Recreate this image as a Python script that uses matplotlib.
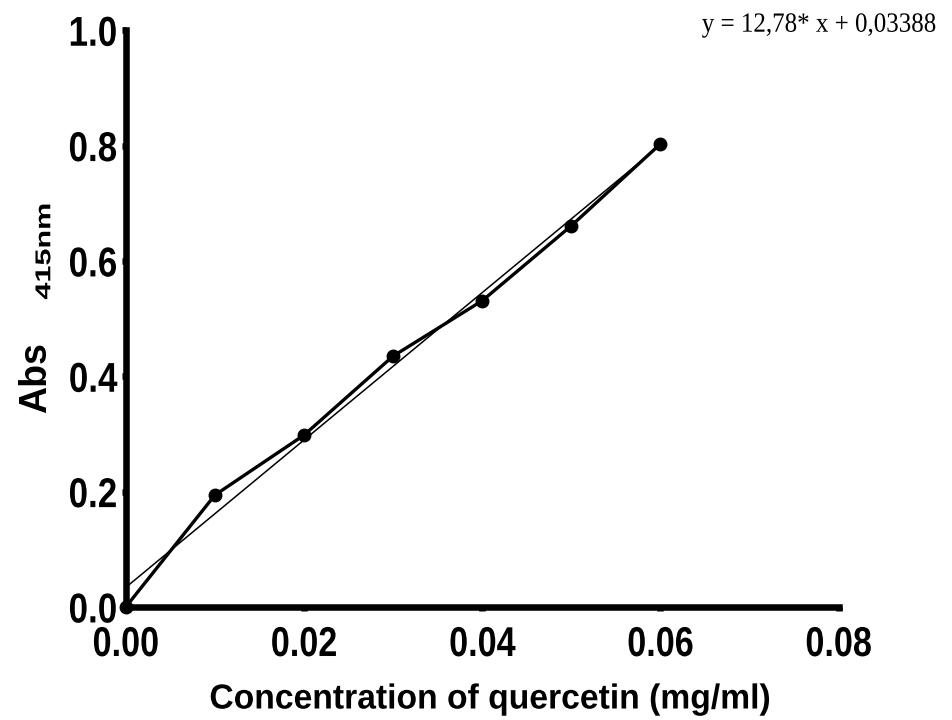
import matplotlib
matplotlib.use("Agg")
import matplotlib.pyplot as plt
from matplotlib.patheffects import AbstractPathEffect
from matplotlib.transforms import Affine2D
import numpy as np

# Curva de calibracion de quercetina
conc = [0.00, 0.01, 0.02, 0.03, 0.04, 0.05, 0.06]
absorb = [0.000, 0.194, 0.298, 0.435, 0.531, 0.661, 0.803]
slope = 12.78
intercept = 0.03388
x_ticks = [0.00, 0.02, 0.04, 0.06, 0.08]
y_ticks = [0.0, 0.2, 0.4, 0.6, 0.8, 1.0]


class Squeeze(AbstractPathEffect):
    # escala el texto en una direccion (no hay fuente "narrow" instalada)
    def __init__(self, s, anchor="center", axis="x"):
        super().__init__()
        self.s = s
        self.anchor = anchor
        self.axis = axis

    def draw_path(self, renderer, gc, tpath, affine, rgbFace=None):
        ext = affine.transform_path(tpath).get_extents()
        if self.axis == "x":
            c = {"left": ext.x0, "right": ext.x1}.get(self.anchor, (ext.x0 + ext.x1) / 2)
            t = affine + Affine2D().translate(-c, 0).scale(self.s, 1).translate(c, 0)
        else:
            c = (ext.y0 + ext.y1) / 2
            t = affine + Affine2D().translate(0, -c).scale(1, self.s).translate(0, c)
        renderer.draw_path(gc, tpath, t, rgbFace)


fig = plt.figure(figsize=(9.53, 7.2), dpi=100)
ax = fig.add_axes([0.132, 0.157, 0.748, 0.801])

fit_x = np.array([conc[0], conc[-1]])
ax.plot(fit_x, slope * fit_x + intercept, color="black", lw=1.1, zorder=2)
ax.plot(conc, absorb, color="black", lw=2.4, marker="o", markersize=9, zorder=3, clip_on=False)

ax.set_xlim(0, 0.08)
ax.set_ylim(0, 1.0)
ax.set_xticks(x_ticks)
ax.set_xticklabels([f"{v:.2f}" for v in x_ticks])
ax.set_yticks(y_ticks)
ax.set_yticklabels([f"{v:.1f}" for v in y_ticks])

for side in ["top", "right"]:
    ax.spines[side].set_visible(False)
for side in ["left", "bottom"]:
    ax.spines[side].set_linewidth(4.7)

ax.tick_params(axis="y", direction="out", length=3, width=4.7, pad=3)
ax.tick_params(axis="x", direction="out", length=3, width=4.7, pad=10)
for lab in ax.get_xticklabels():
    lab.set_family("Liberation Sans")
    lab.set_fontweight("bold")
    lab.set_fontsize(30)
    lab.set_path_effects([Squeeze(0.82, "center")])
for lab in ax.get_yticklabels():
    lab.set_family("Liberation Sans")
    lab.set_fontweight("bold")
    lab.set_fontsize(30)
    lab.set_path_effects([Squeeze(0.84, "right")])

xl = ax.set_xlabel("Concentration of quercetin (mg/ml)", family="Liberation Sans",
                   fontweight="bold", fontsize=25)
xl.set_path_effects([Squeeze(0.97, "center")])
ax.xaxis.set_label_coords(0.511, -0.131)

# etiqueta del eje y: "Abs" con subindice ancho "415nm"
fig.text(0.038, 0.476, "Abs", family="Liberation Sans", fontweight="bold",
         fontsize=27, rotation=90, ha="center", va="center")
sub = fig.text(0.047, 0.651, "415nm", family="Liberation Sans", fontweight="bold",
               fontsize=15.5, rotation=90, ha="center", va="center")
sub.set_path_effects([Squeeze(1.42, axis="y")])

eq = fig.text(0.982, 0.965, "y = 12,78* x + 0,03388", family="Liberation Serif",
              fontsize=20, ha="right", va="center")
eq.set_path_effects([Squeeze(0.9, "right")])

fig.savefig("out.png", dpi=100)
